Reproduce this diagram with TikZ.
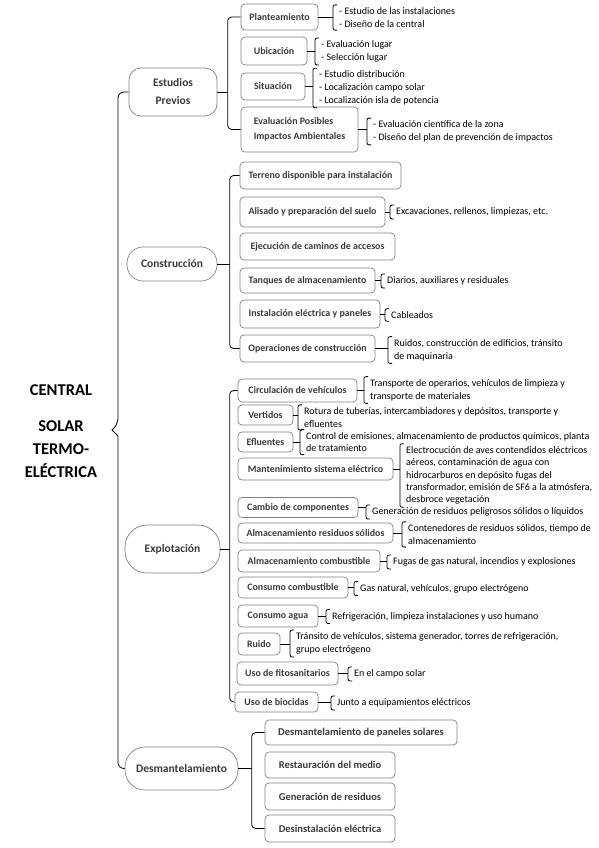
\documentclass[tikz,border=0pt]{standalone}
\usepackage{fontspec}
\setmainfont{Carlito}
\usetikzlibrary{calc}
\definecolor{boxline}{HTML}{808080}
\definecolor{boxtext}{HTML}{3A3A3A}

\begin{document}
\begin{tikzpicture}[x=1pt,y=-1pt,
  brk/.style={line width=0.8pt, rounded corners=4pt},
  phase/.style={draw=boxline, line width=0.7pt, text=boxtext, align=center, inner sep=0pt,
    font=\fontsize{11.5}{14}\selectfont\bfseries},
  item/.style={draw=boxline, line width=0.7pt, rounded corners=4pt, text=boxtext, align=left,
    inner sep=0pt, font=\fontsize{9.9}{13}\selectfont\bfseries},
  bigitem/.style={item, font=\fontsize{10.5}{13}\selectfont\bfseries},
  note/.style={anchor=west, align=left, inner xsep=6pt, inner ysep=2.5pt,
    font=\fontsize{10}{12.8}\selectfont}]
  \useasboundingbox (0,0) rectangle (599,848);

  % Title
  \node[font=\fontsize{16.5}{23}\selectfont\bfseries, align=center] (ttl) at (61,431)
    {CENTRAL\\[13pt]SOLAR\\TERMO-\\ELÉCTRICA};

  % Phases
  \node[phase, rounded corners=12pt, minimum width=88, minimum height=48] (prev) at (173,92) {Estudios\\[4pt]Previos};
  \node[phase, rounded corners=16pt, minimum width=90, minimum height=34] (constr) at (172,264) {Construcción};
  \node[phase, rounded corners=22pt, minimum width=95, minimum height=48] (explot) at (172.5,549) {Explotación};
  \node[phase, rounded corners=20pt, minimum width=113, minimum height=43] (desm) at (181.5,768.5) {Desmantelamiento};

  % Main brace
  \coordinate (tip) at (112,430);
  \draw[brk, rounded corners=6pt] (prev.west) -| ($(tip)+(6,-6)$) [sharp corners] -- (tip)
    -- ($(tip)+(6,6)$) [rounded corners=6pt] |- (desm.west);

  % Estudios previos
  \node[item, minimum width=77, minimum height=26] (plant) at (279.5,17) {Planteamiento};
  \node[item, minimum width=66, minimum height=28] (ubic) at (274,51) {Ubicación};
  \node[item, minimum width=64, minimum height=27] (situ) at (273,86.5) {Situación};
  \node[item, minimum width=117, minimum height=45] (evalu) at (299.5,129.5) {Evaluación Posibles\\[2pt]Impactos Ambientales};

  \node[note] (nPlant) at (333,17.5) {- Estudio de las instalaciones\\- Diseño de la central};
  \node[note] (nUbic) at (315,51.5) {- Evaluación lugar\\- Selección lugar};
  \node[note] (nSitu) at (313,88) {- Estudio distribución\\- Localización campo solar\\- Localización isla de potencia};
  \node[note] (nEval) at (367,131.5) {- Evaluación científica de la zona\\- Diseño del plan de prevención de impactos};

  \draw[brk] (plant.west) -- ++(-13,0) |- (evalu.west);
  \draw[brk] (prev.east) -- ++(11,0);

  % Construccion
  \node[item, minimum width=161, minimum height=27] (terreno) at (320.5,175.5) {Terreno disponible para instalación};
  \node[item, minimum width=145, minimum height=30] (alisado) at (312.5,212) {Alisado y preparación del suelo};
  \node[item, minimum width=155, minimum height=27] (ejec) at (317.5,246.5) {Ejecución de caminos de accesos};
  \node[item, minimum width=135, minimum height=25] (tanques) at (307.5,280.5) {Tanques de almacenamiento};
  \node[item, minimum width=140, minimum height=28] (instal) at (310,314) {Instalación eléctrica y paneles};
  \node[item, minimum width=135, minimum height=27] (operac) at (307.5,348.5) {Operaciones de construcción};

  \node[note] (nAlis) at (390,212) {Excavaciones, rellenos, limpiezas, etc.};
  \node[note] (nTanq) at (381,281) {Diarios, auxiliares y residuales};
  \node[note] (nInst) at (385,315) {Cableados};
  \node[note] (nOper) at (388,350) {Ruidos, construcción de edificios, tránsito\\de maquinaria};

  \draw[brk] (terreno.west) -- ++(-10,0) |- (operac.west);
  \draw[brk] (constr.east) -- ++(13,0);

  % Explotacion
  \node[item, minimum width=119, minimum height=23] (circ) at (297.5,390.5) {Circulación de vehículos};
  \node[item, minimum width=55, minimum height=20] (vert) at (265.5,415) {Vertidos};
  \node[item, minimum width=55, minimum height=20] (eflu) at (265.5,442) {Efluentes};
  \node[item, minimum width=155, minimum height=22] (mant) at (315.5,469) {Mantenimiento sistema eléctrico};
  \node[item, minimum width=120, minimum height=20] (camb) at (298,507.5) {Cambio de componentes};
  \node[item, minimum width=155, minimum height=20] (almr) at (315.5,533) {Almacenamiento residuos sólidos};
  \node[item, minimum width=142, minimum height=22] (almc) at (309,561) {Almacenamiento combustible};
  \node[item, minimum width=110, minimum height=21] (ccom) at (293,587.5) {Consumo combustible};
  \node[item, minimum width=80, minimum height=22] (cagu) at (278,616) {Consumo agua};
  \node[item, minimum width=42, minimum height=22] (ruid) at (259,644) {Ruido};
  \node[item, minimum width=101, minimum height=23] (fito) at (287.5,673.5) {Uso de fitosanitarios};
  \node[item, minimum width=83, minimum height=20] (bioc) at (276.5,702) {Uso de biocidas};

  \node[note] (nCirc) at (364,390) {Transporte de operarios, vehículos de limpieza y\\transporte de materiales};
  \node[note] (nVert) at (298,417.5) {Rotura de tuberías, intercambiadores y depósitos, transporte y\\efluentes};
  \node[note] (nEflu) at (300,442) {Control de emisiones, almacenamiento de productos químicos, planta\\de tratamiento};
  \node[note, font=\fontsize{10}{12.4}\selectfont] (nMant) at (400,475.5) {Electrocución de aves contendidos eléctricos\\aéreos, contaminación de agua con\\hidrocarburos en depósito fugas del\\transformador, emisión de SF6 a la atmósfera,\\desbroce vegetación};
  \node[note] (nCamb) at (366,512) {Generación de residuos peligrosos sólidos o líquidos};
  \node[note] (nAlmr) at (402,534.5) {Contenedores de residuos sólidos, tiempo de\\almacenamiento};
  \node[note] (nAlmc) at (387,562) {Fugas de gas natural, incendios y explosiones};
  \node[note] (nCcom) at (354,588.5) {Gas natural, vehículos, grupo electrógeno};
  \node[note] (nCagu) at (326,616.5) {Refrigeración, limpieza instalaciones y uso humano};
  \node[note] (nRuid) at (290,643.5) {Tránsito de vehículos, sistema generador, torres de refrigeración,\\grupo electrógeno};
  \node[note] (nFito) at (348,674) {En el campo solar};
  \node[note] (nBioc) at (331,703) {Junto a equipamientos eléctricos};

  \draw[brk] (circ.west) -- ++(-8,0) |- (bioc.west);
  \draw[brk] (explot.east) -- ++(10,0);

  % Desmantelamiento
  \node[bigitem, minimum width=192, minimum height=25] (dpan) at (361,732.5) {Desmantelamiento de paneles solares};
  \node[bigitem, minimum width=130, minimum height=26] (rest) at (330,765) {Restauración del medio};
  \node[bigitem, minimum width=130, minimum height=27] (gener) at (330,796.5) {Generación de residuos};
  \node[bigitem, minimum width=130, minimum height=27] (desins) at (330,828.5) {Desinstalación eléctrica};

  \draw[brk] (dpan.west) -- ++(-13,0) |- (desins.west);
  \draw[brk] (desm.east) -- ++(14,0);

  % Note brackets
  \foreach \b/\n in {plant/nPlant, ubic/nUbic, situ/nSitu, evalu/nEval,
      alisado/nAlis, tanques/nTanq, instal/nInst, operac/nOper,
      circ/nCirc, vert/nVert, eflu/nEflu, mant/nMant, camb/nCamb, almr/nAlmr,
      almc/nAlmc, ccom/nCcom, cagu/nCagu, ruid/nRuid, fito/nFito, bioc/nBioc} {
    \draw[brk, rounded corners=2pt] ([xshift=4pt]\n.north west) -- (\n.north west)
      -- (\n.south west) -- ([xshift=4pt]\n.south west);
    \draw[brk] (\b.east) -- (\b.east -| \n.west);
  }
\end{tikzpicture}
\end{document}
